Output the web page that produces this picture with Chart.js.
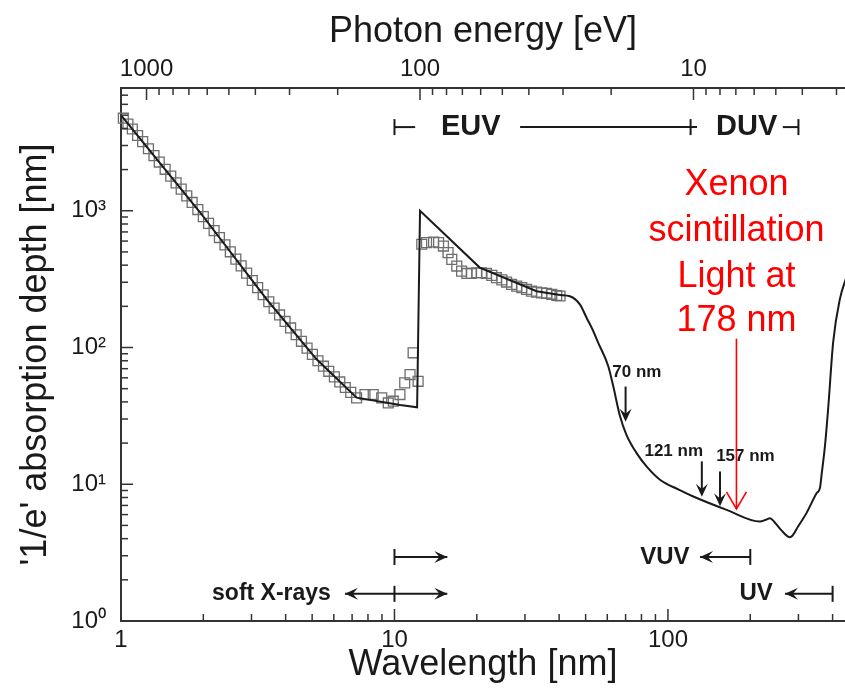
<!DOCTYPE html>
<html lang="en">
<head>
<meta charset="UTF-8">
<title>'1/e' absorption depth vs wavelength</title>
<script src="https://cdn.jsdelivr.net/npm/chart.js"></script>
<style>
    html, body { margin: 0; padding: 0; background: #fff; }
    canvas { display: block; }
</style>
</head>
<body>
<canvas id="myChart" width="845" height="692"></canvas>
<script>
    const HC = 1239.84; // eV*nm
    const FONT = "'Liberation Sans', Arial, sans-serif";

    // solid curve (calculated absorption depth)
    const modelWl = [1, 1.945, 3.41, 5.19, 7.27, 10.5, 12.1, 12.4, 20.5, 33.1, 40.3, 43.8, 47.7, 50.4, 53.3, 55.6, 60.5, 63.1, 66.8, 70.5, 76.8, 83.8, 93.5, 110, 123.8, 163.9, 216.8, 228, 236, 245, 260, 279, 285, 299, 321, 350, 359.5, 365, 375, 385, 402, 425, 450];
    const modelDepth = [5000, 975, 225, 82, 43, 38, 36.5, 1000, 384, 258, 242, 237, 206, 165, 132, 108, 73, 52, 31.4, 23, 16.9, 13.4, 10.8, 9.1, 8.14, 6.5, 5.34, 5.5, 5.65, 5.3, 4.6, 4.1, 4.2, 4.91, 6.15, 8.62, 9.38, 12, 19, 35, 110, 225, 330];
    const smoothFrom = 40.3; // curve is drawn smooth from here on, straight before

    // open squares (measured)
    const measWl = [1.02, 1.06, 1.10, 1.15, 1.20, 1.26, 1.32, 1.38, 1.45, 1.52, 1.59, 1.66, 1.74, 1.82, 1.91, 2.00, 2.09, 2.19, 2.29, 2.40, 2.51, 2.63, 2.75, 2.88, 3.02, 3.16, 3.31, 3.47, 3.63, 3.80, 3.98, 4.17, 4.37, 4.57, 4.79, 5.01, 5.25, 5.50, 5.75, 6.03, 6.31, 6.61, 6.92,
        7.27, 7.80, 8.36, 8.98, 9.49, 9.90, 10.47, 10.9, 11.4, 11.7, 12.2,
        12.58, 13.1, 13.9, 14.5, 15.1, 15.7, 16.2, 16.9, 17.6, 18.4, 19.1, 20.0, 20.8, 21.7, 22.7, 23.6, 24.7, 25.7, 26.8, 28.0, 29.2, 30.4, 31.7, 33.1, 34.5, 36.0, 37.6, 39.2, 40.3];
    const measDepth = [4750, 4300, 3960, 3550, 3200, 2840, 2530, 2270, 2010, 1790, 1600, 1440, 1285, 1150, 1020, 906, 808, 716, 637, 563, 501, 443, 395, 350, 309, 274, 243, 216, 194, 173, 155, 139, 124, 111, 99, 89, 80, 73, 67, 61, 56, 51, 47,
        42.8, 45.3, 45.3, 42.8, 39.3, 40.5, 45.3, 55.1, 63.4, 91.5, 56.6,
        569, 585, 591, 585, 552, 494, 441, 394, 362, 348, 348, 352, 352, 348, 337, 324, 312, 301, 289, 281, 274, 266, 258, 254, 251, 249, 245, 240, 238];

    // axis ticks
    const wlTicks = [1, 2, 3, 4, 5, 6, 7, 8, 9, 10, 20, 30, 40, 50, 60, 70, 80, 90, 100, 200, 300, 400];
    const energyTicks = [1000, 900, 800, 700, 600, 500, 400, 300, 200, 100, 90, 80, 70, 60, 50, 40, 30, 20, 10, 9, 8, 7, 6, 5, 4, 3];
    const energyLabels = [1000, 100, 10];
    const depthTicks = [1, 2, 3, 4, 5, 6, 7, 8, 9, 10, 20, 30, 40, 50, 60, 70, 80, 90, 100, 200, 300, 400, 500, 600, 700, 800, 900, 1000, 2000, 3000, 4000, 5000, 6000, 7000];
    const depthLabels = {1: '10\u2070', 10: '10\u00b9', 100: '10\u00b2', 1000: '10\u00b3'};

    // annotations (in data units: wavelength nm, depth nm)
    const bandTexts = [
        {text: 'EUV', wl: 19.0, depth: 4090, size: 29},
        {text: 'DUV', wl: 194, depth: 4090, size: 29},
        {text: 'soft X-rays', wl: 3.55, depth: 1.58, size: 23},
        {text: 'VUV', wl: 97.5, depth: 2.94, size: 24},
        {text: 'UV', wl: 210, depth: 1.58, size: 24}
    ];
    const bandBars = [
        {from: 10, to: 11.9, depth: 4090, ticks: [10], heads: []},
        {from: 28.8, to: 127.7, depth: 4090, ticks: [121], heads: []},
        {from: 263, to: 300, depth: 4090, ticks: [300], heads: []},
        {from: 10, to: 15.6, depth: 2.94, ticks: [10], heads: ['end']},
        {from: 6.59, to: 15.6, depth: 1.58, ticks: [10], heads: ['start', 'end']},
        {from: 131, to: 200, depth: 2.94, ticks: [200], heads: ['start']},
        {from: 268, to: 400, depth: 1.58, ticks: [400], heads: ['start']}
    ];
    const lineMarks = [
        {text: '70 nm', textWl: 77, textDepth: 65.6, wl: 70, from: 51.8, to: 28.7},
        {text: '121 nm', textWl: 105, textDepth: 17.4, wl: 133, from: 14.7, to: 8.1},
        {text: '157 nm', textWl: 192, textDepth: 16.0, wl: 155, from: 12.4, to: 6.9}
    ];
    const xenonLines = ['Xenon', 'scintillation', 'Light at', '178 nm'];
    const xenonDepths = [1537, 707, 326, 155];
    const xenonWl = 178;
    const xenonArrow = [116, 6.6];

    function isDecade(v) {
        const l = Math.log10(v);
        return Math.abs(l - Math.round(l)) < 1e-6;
    }

    function seg(ctx, x1, y1, x2, y2) {
        ctx.beginPath();
        ctx.moveTo(x1, y1);
        ctx.lineTo(x2, y2);
        ctx.stroke();
    }

    function head(ctx, x, y, dx, dy) {
        const L = 13, W = 6;
        ctx.beginPath();
        ctx.moveTo(x, y);
        ctx.lineTo(x - dx * L - dy * W, y - dy * L + dx * W);
        ctx.lineTo(x - dx * L * 0.6, y - dy * L * 0.6);
        ctx.lineTo(x - dx * L + dy * W, y - dy * L - dx * W);
        ctx.closePath();
        ctx.fill();
    }

    // ticks pointing into the plot
    const inwardTicks = {
        id: 'inwardTicks',
        afterDatasetsDraw(chart) {
            const {ctx, chartArea: a, scales} = chart;
            ctx.save();
            ctx.strokeStyle = '#333';
            ctx.lineWidth = 1.5;
            scales.x.ticks.forEach(t => {
                const p = scales.x.getPixelForValue(t.value);
                seg(ctx, p, a.bottom, p, a.bottom - (isDecade(t.value) ? 12 : 7));
            });
            scales.x2.ticks.forEach(t => {
                const p = scales.x2.getPixelForValue(t.value);
                const e = Math.round(HC / t.value);
                seg(ctx, p, a.top, p, a.top + (energyLabels.includes(e) ? 12 : 7));
            });
            scales.y.ticks.forEach(t => {
                const p = scales.y.getPixelForValue(t.value);
                seg(ctx, a.left, p, a.left + (isDecade(t.value) ? 12 : 7), p);
            });
            ctx.restore();
        }
    };

    const annotate = {
        id: 'annotate',
        afterDraw(chart) {
            const {ctx} = chart;
            const X = v => chart.scales.x.getPixelForValue(v);
            const Y = v => chart.scales.y.getPixelForValue(v);
            ctx.save();
            ctx.fillStyle = '#1a1a1a';
            ctx.strokeStyle = '#1a1a1a';
            ctx.lineWidth = 2;
            ctx.textAlign = 'center';
            ctx.textBaseline = 'middle';

            bandTexts.forEach(b => {
                ctx.font = 'bold ' + b.size + 'px ' + FONT;
                ctx.fillText(b.text, X(b.wl), Y(b.depth));
            });
            bandBars.forEach(b => {
                const y = Y(b.depth);
                const x1 = X(b.from), x2 = X(b.to);
                seg(ctx, x1, y, x2, y);
                b.ticks.forEach(t => seg(ctx, X(t), y - 8, X(t), y + 8));
                if (b.heads.includes('end')) head(ctx, x2, y, 1, 0);
                if (b.heads.includes('start')) head(ctx, x1, y, -1, 0);
            });

            ctx.font = 'bold 17px ' + FONT;
            lineMarks.forEach(m => {
                ctx.fillText(m.text, X(m.textWl), Y(m.textDepth));
                const x = X(m.wl);
                seg(ctx, x, Y(m.from), x, Y(m.to) - 6);
                head(ctx, x, Y(m.to), 0, 1);
            });

            // red Xenon note
            ctx.fillStyle = '#ff0000';
            ctx.strokeStyle = '#ff0000';
            ctx.font = '36px ' + FONT;
            xenonLines.forEach((s, i) => ctx.fillText(s, X(xenonWl), Y(xenonDepths[i])));
            ctx.lineWidth = 1.6;
            const xr = X(xenonWl), tip = Y(xenonArrow[1]);
            seg(ctx, xr, Y(xenonArrow[0]), xr, tip);
            ctx.beginPath();
            ctx.moveTo(xr - 10, tip - 17);
            ctx.lineTo(xr, tip);
            ctx.lineTo(xr + 10, tip - 17);
            ctx.stroke();
            ctx.restore();
        }
    };

    const modelPts = modelWl.map((w, i) => ({x: w, y: modelDepth[i]}));
    const lineStyle = {borderColor: '#1a1a1a', borderWidth: 2, pointRadius: 0, fill: false, order: 1};

    const ctx = document.getElementById('myChart').getContext('2d');
    new Chart(ctx, {
        type: 'line',
        data: {
            datasets: [
                Object.assign({label: 'Calculated', data: modelPts.filter(p => p.x <= smoothFrom), tension: 0}, lineStyle),
                Object.assign({label: 'Calculated (smooth part)', data: modelPts.filter(p => p.x >= smoothFrom), cubicInterpolationMode: 'monotone'}, lineStyle),
                {
                    label: 'Measured',
                    data: measWl.map((w, i) => ({x: w, y: measDepth[i]})),
                    showLine: false,
                    pointStyle: 'rect',
                    pointRadius: 7,
                    borderColor: '#6e6e6e',
                    borderWidth: 1.3,
                    backgroundColor: 'rgba(0,0,0,0)',
                    clip: false,
                    order: 2
                }
            ]
        },
        options: {
            responsive: false,
            animation: false,
            layout: {padding: 0, autoPadding: false},
            plugins: {legend: {display: false}, tooltip: {enabled: false}},
            scales: {
                x: {
                    type: 'logarithmic',
                    position: 'bottom',
                    min: 1,
                    max: 444,
                    afterBuildTicks: s => { s.ticks = wlTicks.map(v => ({value: v})); },
                    afterFit: s => { s.height = 71; },
                    grid: {display: false, drawTicks: false},
                    border: {display: true, color: '#333', width: 2},
                    ticks: {
                        autoSkip: false, maxRotation: 0, padding: 5, color: '#1a1a1a',
                        font: {family: FONT, size: 24},
                        callback: v => isDecade(v) ? String(Math.round(v)) : ''
                    },
                    title: {display: true, text: 'Wavelength [nm]', color: '#1a1a1a', font: {family: FONT, size: 36}, padding: {top: 0, bottom: 5}}
                },
                x2: {
                    type: 'logarithmic',
                    position: 'top',
                    min: 1,
                    max: 444,
                    afterBuildTicks: s => { s.ticks = energyTicks.map(e => ({value: HC / e})); },
                    afterFit: s => { s.height = 88; },
                    grid: {display: false, drawTicks: false},
                    border: {display: true, color: '#333', width: 2},
                    ticks: {
                        autoSkip: false, maxRotation: 0, padding: 4, color: '#1a1a1a',
                        font: {family: FONT, size: 24},
                        callback: v => {
                            const e = Math.round(HC / v);
                            return energyLabels.includes(e) ? String(e) : '';
                        }
                    },
                    title: {display: true, text: 'Photon energy [eV]', color: '#1a1a1a', font: {family: FONT, size: 36}, padding: {top: 10, bottom: 0}}
                },
                y: {
                    type: 'logarithmic',
                    min: 1,
                    max: 7900,
                    afterBuildTicks: s => { s.ticks = depthTicks.map(v => ({value: v})); },
                    afterFit: s => { s.width = 121; },
                    grid: {display: false, drawTicks: false},
                    border: {display: true, color: '#333', width: 2},
                    ticks: {
                        autoSkip: false, padding: 15, color: '#1a1a1a',
                        font: {family: FONT, size: 24},
                        callback: v => depthLabels[Math.round(v)] && isDecade(v) ? depthLabels[Math.round(v)] : ''
                    },
                    title: {display: true, text: "'1/e' absorption depth [nm]", color: '#1a1a1a', font: {family: FONT, size: 36}, padding: {top: 14, bottom: 0}}
                }
            }
        },
        plugins: [inwardTicks, annotate]
    });
</script>
</body>
</html>
